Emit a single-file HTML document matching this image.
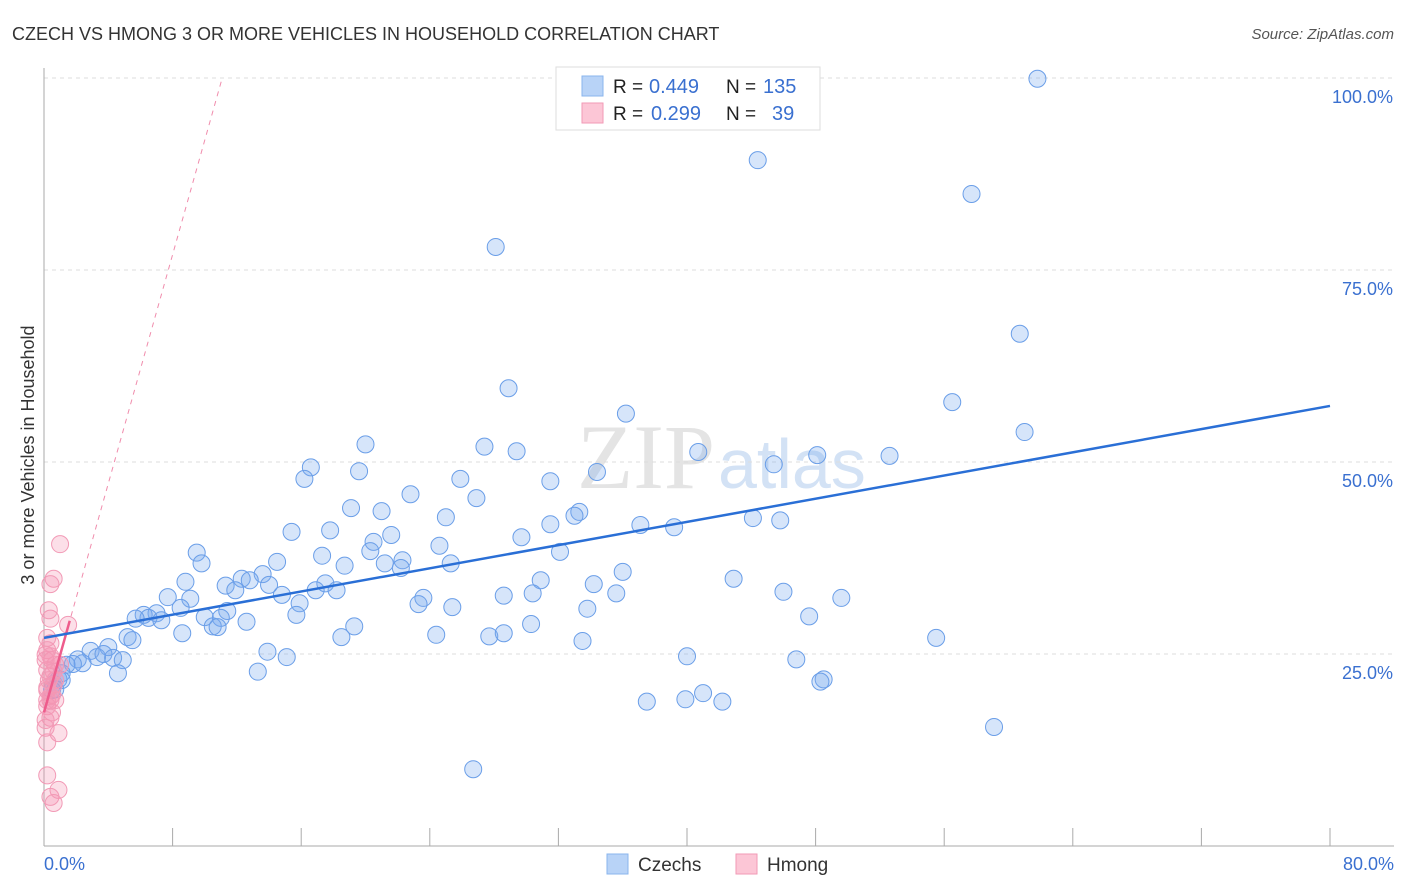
<!DOCTYPE html>
<html><head><meta charset="utf-8"><style>
body{margin:0;background:#fff;font-family:"Liberation Sans",sans-serif;}
svg{display:block}
</style></head><body>
<svg id="chart" width="1406" height="892">
<text x="12" y="40" font-size="18" fill="#333">CZECH VS HMONG 3 OR MORE VEHICLES IN HOUSEHOLD CORRELATION CHART</text>
<text x="1394" y="39" font-size="15" fill="#555" font-style="italic" text-anchor="end">Source: ZipAtlas.com</text>
<text x="715" y="488" font-size="92" fill="#e4e4e4" text-anchor="end" font-family="Liberation Serif,serif">ZIP</text>
<text x="718" y="488" font-size="70" fill="#d3e2f5">atlas</text>
<text transform="translate(34,455) rotate(-90)" font-size="18" fill="#333" text-anchor="middle">3 or more Vehicles in Household</text>
<g id="grid"></g><g id="marks"></g>
<g>
<rect x="556" y="67" width="264" height="63" fill="#fff" stroke="#ddd"/>
<rect x="582" y="76" width="21" height="20" fill="#b8d3f7" stroke="#8ab4ec"/>
<rect x="582" y="103" width="21" height="20" fill="#fcc6d6" stroke="#f29ab6"/>
<text x="613" y="93" font-size="19" fill="#222">R =</text>
<text x="649" y="93" font-size="20" fill="#3a70d0">0.449</text>
<text x="726" y="93" font-size="19" fill="#222">N =</text>
<text x="763" y="93" font-size="20" fill="#3a70d0">135</text>
<text x="613" y="120" font-size="19" fill="#222">R =</text>
<text x="651" y="120" font-size="20" fill="#3a70d0">0.299</text>
<text x="726" y="120" font-size="19" fill="#222">N =</text>
<text x="772" y="120" font-size="20" fill="#3a70d0">39</text>
</g>
<g>
<rect x="607" y="854" width="21" height="20" fill="#b8d3f7" stroke="#8ab4ec"/>
<text x="638" y="871" font-size="19" fill="#333">Czechs</text>
<rect x="736" y="854" width="21" height="20" fill="#fcc6d6" stroke="#f29ab6"/>
<text x="767" y="871" font-size="19" fill="#333">Hmong</text>
</g>
</svg>
<script>
const czX=[61.8,44.4,57.7,28.1,60.7,28.9,56.5,36.2,61.0,20.0,27.4,29.4,40.7,48.1,52.6,45.4,16.6,19.6,34.4,16.2,25.9,31.5,22.8,26.9,19.1,21.0,25.0,33.3,33.0,44.1,45.8,37.1,39.2,15.4,17.8,21.6,29.7,31.5,20.5,24.6,32.1,9.5,17.3,20.3,22.3,25.3,9.8,21.2,14.5,18.7,22.2,36.0,13.6,30.9,42.9,34.2,12.3,11.3,12.8,11.9,8.8,17.5,14.0,16.9,18.2,14.8,35.6,28.6,30.4,46.0,49.6,23.6,23.3,7.7,9.1,25.4,33.8,15.9,8.5,7.0,11.4,6.2,6.5,5.7,7.3,10.0,11.0,12.6,15.7,47.6,10.5,10.8,30.3,19.3,8.6,24.4,27.7,28.6,18.5,5.2,5.5,55.5,33.5,13.9,15.1,40.0,4.0,2.9,3.3,3.7,2.1,4.3,4.9,2.4,1.8,1.4,46.8,13.3,4.6,48.5,48.3,41.0,39.9,37.5,42.2,1.1,0.9,0.6,0.7,1.1,0.5,59.1,26.7];
const czY=[99.9,89.3,84.9,78.0,66.7,59.6,57.8,56.3,53.9,52.3,52.0,51.4,51.3,50.9,50.8,49.7,49.3,48.8,48.7,47.8,47.8,47.5,45.8,45.3,44.0,43.6,42.8,43.5,43.0,42.7,42.4,41.8,41.5,40.9,41.1,40.5,40.2,41.9,39.6,39.1,38.3,38.2,37.8,38.4,37.2,36.8,36.8,36.8,37.0,36.5,36.2,35.7,35.4,34.6,34.8,34.1,34.8,33.9,34.6,33.3,34.4,34.2,34.0,33.3,33.3,32.7,32.9,32.6,32.9,33.1,32.3,32.3,31.5,32.4,32.2,31.1,30.9,31.6,31.0,30.3,30.6,30.1,29.7,29.6,29.4,29.8,29.7,29.2,30.1,29.9,28.6,28.5,28.9,28.6,27.7,27.5,27.3,27.7,27.2,27.2,26.8,27.1,26.7,25.3,24.6,24.7,25.9,25.4,24.6,25.0,24.3,24.5,24.2,23.8,23.7,23.6,24.3,22.7,22.5,21.7,21.4,19.9,19.1,18.8,18.8,22.5,21.7,21.1,20.4,21.6,20.3,15.5,10.0];
const hmX=[1.0,0.6,0.4,0.4,1.5,0.2,0.4,0.2,0.5,0.7,0.2,0.4,0.7,0.2,0.5,0.4,0.2,0.5,0.4,0.9,0.2,0.1,0.2,0.9,0.4,0.6,0.2,0.1,0.6,0.3,0.2,0.6,0.1,1.0,0.4,0.4,0.1,0.7,0.3];
const hmY=[39.3,34.8,34.1,29.6,28.8,27.1,26.4,25.5,24.2,23.6,22.9,22.1,21.6,20.6,19.7,19.0,18.2,17.4,16.7,14.7,13.5,15.4,9.2,7.3,6.4,5.6,20.3,24.2,22.7,30.7,19.0,21.0,24.9,23.6,24.7,19.5,16.4,19.0,21.6];
const czLine=[27.1,0.3775];
const hmLine=[17.4,7.45];
const yTicks=[25,50,75,100];
const xTicks=[0,8,16,24,32,40,48,56,64,72,80];
const NS='http://www.w3.org/2000/svg';
const sx=v=>44+v*(1286/80), sy=v=>846-v*7.68;
function mk(t,a,p){const e=document.createElementNS(NS,t);for(const k in a)e.setAttribute(k,a[k]);p.appendChild(e);return e;}
const grid=document.getElementById('grid'),marks=document.getElementById('marks');
yTicks.forEach(t=>{
 const l=mk('line',{x1:44,x2:1394,y1:sy(t),y2:sy(t),stroke:'#ddd','stroke-dasharray':'4,4'},grid);
 
 
 const tx=mk('text',{x:1393,y:sy(t)+25,'font-size':18,fill:'#3a70d0','text-anchor':'end'},grid);
 tx.textContent=t.toFixed(1)+'%';
 
 
});
mk('line',{x1:44,x2:44,y1:68,y2:846,stroke:'#aaa'},grid);
mk('line',{x1:44,x2:1394,y1:846,y2:846,stroke:'#aaa'},grid);
xTicks.forEach(t=>{const l=mk('line',{x1:sx(t),x2:sx(t),y1:828,y2:846,stroke:'#aaa'},grid);
 
 });
[[0,'start',44],[80,'end',1394]].forEach(([v,a,x])=>{const tx=mk('text',{x:x,y:870,'font-size':18,fill:'#3a70d0','text-anchor':a},grid);tx.textContent=v.toFixed(1)+'%';
 
 });
czX.forEach((x,i)=>{const c=mk('circle',{cx:sx(x),cy:sy(czY[i]),r:8.5,fill:'rgba(120,170,240,0.3)',stroke:'#6a9ee8','stroke-width':1},marks);
 
 });
hmX.forEach((x,i)=>{const c=mk('circle',{cx:sx(x),cy:sy(hmY[i]),r:8.5,fill:'rgba(245,150,180,0.3)',stroke:'#f29ab6','stroke-width':1},marks);
 
 });
const dEnd=(100-hmLine[0])/hmLine[1];
const hd=mk('line',{x1:sx(0),y1:sy(hmLine[0]),x2:sx(dEnd),y2:sy(100),stroke:'#f08cac','stroke-dasharray':'5,5','stroke-width':1},marks);


const hl=mk('line',{x1:sx(0),y1:sy(hmLine[0]),x2:sx(1.6),y2:sy(hmLine[0]+hmLine[1]*1.6),stroke:'#ee5c8c','stroke-width':2.5},marks);


const cl=mk('line',{x1:sx(0),y1:sy(czLine[0]),x2:sx(80),y2:sy(czLine[0]+czLine[1]*80),stroke:'#2a6fd6','stroke-width':2.5},marks);


</script>
</body></html>
